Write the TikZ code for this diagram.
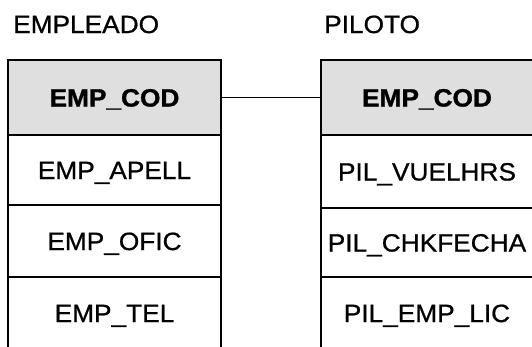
\documentclass[tikz,border=0pt]{standalone}
\usepackage{fontspec}
\newfontfamily\wf[FakeStretch=1.05,FakeBold=0.8]{Liberation Sans}
\newfontfamily\wfb[FakeStretch=1.05,FakeBold=1.2]{Liberation Sans Bold}
\begin{document}
\begin{tikzpicture}[x=1pt,y=-1pt,
  cell/.style={draw=black,line width=2.2pt,rectangle,inner sep=0pt,minimum width=#1},
  cell/.default=213pt,
  ttl/.style={anchor=west,inner sep=0pt,text height=18pt,text depth=0pt,font=\wf\fontsize{25}{29}\selectfont},
  txt/.style={text height=18pt,text depth=0pt,font=\wf\fontsize{25}{29}\selectfont},
  key/.style={fill=gray!25,font=\wfb\fontsize{25}{29}\selectfont},
  link/.style={draw=black,line width=1.4pt}]
\useasboundingbox (0,0) rectangle (532,346);
\clip (0,0) rectangle (532,346);
% titles
\node[ttl] (t1) at (13,24) {EMPLEADO};
\node[ttl] (t2) at (324,24) {PILOTO};
% left table
\node[cell,txt,key,minimum height=75pt] (l1) at (114.5,97.5) {EMP\_COD};
\node[cell,txt,minimum height=70pt] (l2) at (114.5,170) {EMP\_APELL};
\node[cell,txt,minimum height=72pt] (l3) at (114.5,241) {EMP\_OFIC};
\node[cell,txt,minimum height=72pt] (l4) at (114.5,313) {EMP\_TEL};
% right table
\node[cell=212pt,txt,key,minimum height=75pt] (r1) at (427,97.5) {EMP\_COD};
\node[cell=212pt,txt,minimum height=73pt] (r2) at (427,171.5) {PIL\_VUELHRS};
\node[cell=212pt,txt,minimum height=69pt] (r3) at (427,242.5) {PIL\_CHKFECHA};
\node[cell=212pt,txt,minimum height=72pt] (r4) at (427,313) {PIL\_EMP\_LIC};
% connector
\draw[link] (l1.east) -- (r1.west);
\end{tikzpicture}
\end{document}
